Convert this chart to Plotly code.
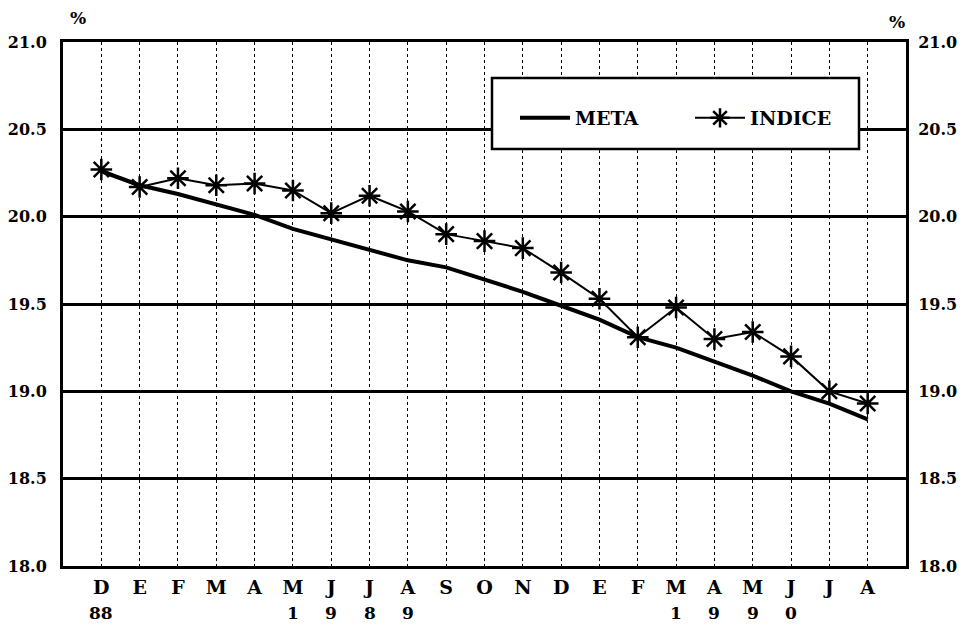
import plotly.graph_objects as go

# months Dec 1988 .. Aug 1990
months = ["D", "E", "F", "M", "A", "M", "J", "J", "A", "S", "O",
          "N", "D", "E", "F", "M", "A", "M", "J", "J", "A"]
year_marks = ["88", "", "", "", "", "1", "9", "8", "9", "", "",
              "", "", "", "", "1", "9", "9", "0", "", ""]

meta = [20.26, 20.18, 20.13, 20.07, 20.01, 19.93, 19.87, 19.81, 19.75, 19.71, 19.64,
        19.57, 19.49, 19.41, 19.31, 19.25, 19.17, 19.09, 19.00, 18.93, 18.84]
indice = [20.27, 20.17, 20.22, 20.18, 20.19, 20.15, 20.02, 20.12, 20.03, 19.90, 19.86,
          19.82, 19.68, 19.53, 19.31, 19.48, 19.30, 19.34, 19.20, 19.00, 18.93]

x = list(range(len(months)))
FONT = "DejaVu Serif"
# page has an 8px body margin, so the figure is a bit smaller than the window
PLOT_W, PLOT_H = 843, 524


def px_x(p):
    return (p - 63) / PLOT_W


def px_y(p):
    return 1 - (p - 42) / PLOT_H


def bold(size):
    return dict(family=FONT, size=size, color="black", weight="bold")


fig = go.Figure()
fig.add_trace(go.Scatter(
    x=x, y=meta, mode="lines", name="META",
    line=dict(color="black", width=4)
))
fig.add_trace(go.Scatter(
    x=x, y=indice, mode="lines+markers", name="INDICE",
    line=dict(color="black", width=2),
    marker=dict(symbol="asterisk-open", size=18, line=dict(color="black", width=2.5))
))
# same series on the right-hand axis so it gets drawn
fig.add_trace(go.Scatter(
    x=x, y=meta, yaxis="y2", mode="lines", opacity=0,
    showlegend=False, hoverinfo="skip"
))

yaxis_style = dict(
    range=[18.0, 21.0], dtick=0.5, tickformat=".1f",
    showline=True, linecolor="black", linewidth=3,
    zeroline=False, ticks="", automargin=False,
    tickfont=bold(16),
)

# white legend box covering the grid
fig.add_shape(
    type="rect", xref="paper", yref="paper", layer="above",
    x0=px_x(492), x1=px_x(859), y0=px_y(149), y1=px_y(78),
    fillcolor="white", line=dict(color="black", width=2.5),
)

fig.update_layout(
    width=950, height=616,
    paper_bgcolor="white", plot_bgcolor="white",
    margin=dict(l=55, r=52, t=34, b=58),
    showlegend=True,
    legend=dict(
        x=px_x(515), y=px_y(118), xanchor="left", yanchor="middle",
        orientation="h", bgcolor="rgba(0,0,0,0)", borderwidth=0,
        font=bold(19), entrywidth=110, itemwidth=50,
    ),
    xaxis=dict(
        range=[-1, 21], tickvals=x, ticktext=months,
        showgrid=True, gridcolor="black", gridwidth=1, griddash="dot",
        showline=True, linecolor="black", linewidth=3, mirror=True,
        zeroline=False, ticks="", ticklabelstandoff=2, automargin=False,
        tickfont=bold(19),
    ),
    yaxis=dict(**yaxis_style, side="left", mirror=True, ticklabelstandoff=10,
               showgrid=True, gridcolor="black", gridwidth=3),
    yaxis2=dict(**yaxis_style, side="right", overlaying="y", showgrid=False,
                ticklabelstandoff=6),
)

for i, label in enumerate(year_marks):
    if label:
        fig.add_annotation(
            x=i, y=px_y(613), xref="x", yref="paper", text=label, showarrow=False,
            yanchor="middle", font=bold(17),
        )

fig.add_annotation(x=px_x(78), y=px_y(18), xref="paper", yref="paper", xanchor="center",
                   text="%", showarrow=False, yanchor="middle", font=bold(17))
fig.add_annotation(x=px_x(897), y=px_y(22), xref="paper", yref="paper", xanchor="center",
                   text="%", showarrow=False, yanchor="middle", font=bold(17))

fig.write_html("out.html")
